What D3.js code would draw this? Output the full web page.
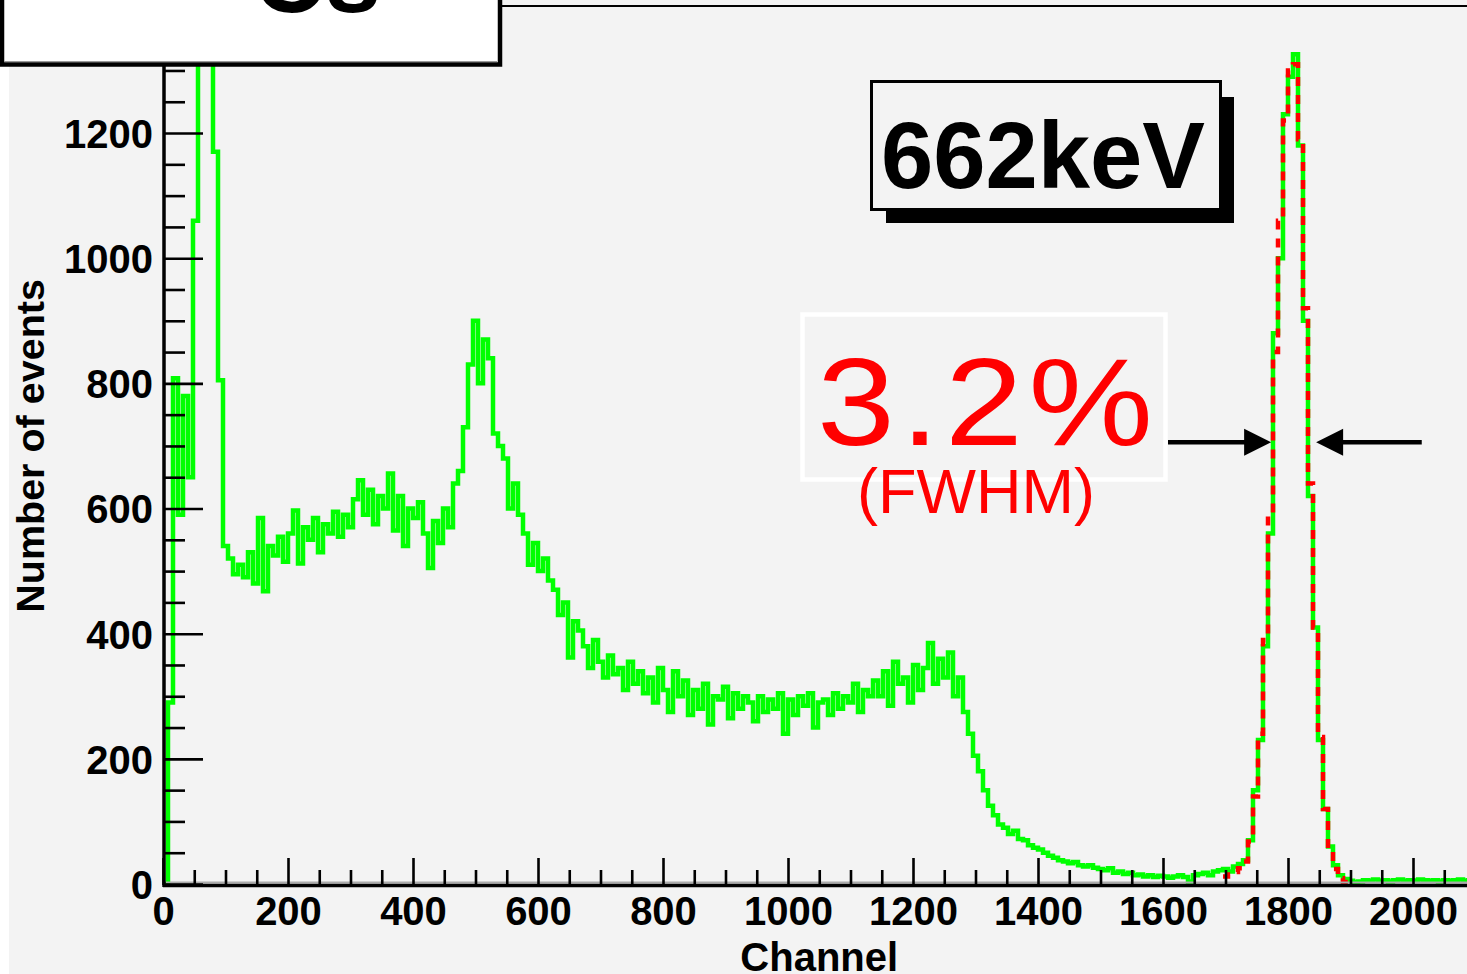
<!DOCTYPE html>
<html><head><meta charset="utf-8">
<script src="https://cdn.jsdelivr.net/npm/d3@7"></script>
<style>
html,body{margin:0;padding:0;background:#ffffff;}
svg{display:block;}
</style>
</head><body>
<svg id="chart" width="1467" height="974"></svg>
<script>
// ---------------- data ----------------
const binWidth = 8; // channels per bin
// spectrum counts, bin i covers channels [8i, 8i+8)
const counts = [
  0, 290, 808, 590, 780, 650, 1060, 2500, 3500, 3000,
  1170, 805, 540, 520, 495, 510, 490, 530, 480, 585,
  468, 540, 525, 555, 515, 560, 597, 512, 570, 550,
  585, 530, 575, 560, 595, 555, 590, 570, 615, 645,
  590, 630, 575, 620, 600, 656, 565, 620, 540, 600,
  585, 610, 560, 505, 580, 545, 600, 570, 640, 660,
  730, 830, 900, 800, 870, 840, 720, 700, 680, 600,
  640, 590, 560, 510, 545, 500, 520, 485, 470, 430,
  450, 362, 420, 405, 380, 345, 390, 355, 330, 365,
  335, 345, 310, 355, 320, 340, 305, 330, 290, 345,
  310, 275, 340, 300, 325, 270, 310, 280, 320, 255,
  300, 295, 315, 265, 305, 280, 300, 290, 260, 300,
  275, 295, 280, 305, 240, 295, 270, 300, 285, 305,
  250, 290, 295, 270, 305, 280, 300, 290, 320, 275,
  310, 300, 325, 300, 340, 285, 355, 320, 330, 290,
  350, 310, 345, 385, 320, 360, 330, 370, 300, 330,
  275, 240, 205, 180, 150, 125, 110, 95, 90, 80,
  85, 72, 70, 62, 58, 55, 50, 45, 42, 38,
  36, 33, 35, 30, 28, 30, 26, 24, 22, 25,
  18, 20, 16, 18, 14, 15, 12, 14, 11, 13,
  12, 10, 12, 14, 11, 4, 14, 16, 18, 14,
  20, 22, 24, 20, 28, 32, 38, 70, 150, 230,
  380, 560, 880, 1000, 1230, 1290, 1326, 1180, 900, 620,
  410, 230, 120, 60, 30, 14, 8, 5, 3, 4,
  6, 5, 7, 5, 6, 4, 6, 7, 5, 6,
  5, 7, 6, 5, 6, 4, 6, 5, 6, 7,
  5, 6, 5
];
// gaussian fit drawn over the photopeak (same binning), first bin index:
const fitStartBin = 212;
const fitCounts = [
  12, 15, 19, 25, 36, 68, 140, 240, 390, 590,
  850, 1060, 1220, 1300, 1310, 1190, 920, 640, 410, 235,
  120, 56, 24, 9, 3, 1
];
const xMajorTicks = [0, 200, 400, 600, 800, 1000, 1200, 1400, 1600, 1800, 2000];
const yMajorTicks = [0, 200, 400, 600, 800, 1000, 1200];
const xDomain = [0, 2100];
const yDomain = [0, 1400];
const xTitle = "Channel";
const yTitle = "Number of events";
const titleText = "Cs";
const energyLabel = "662keV";
const resolutionLabel = "3.2%";
const fwhmLabel = "(FWHM)";
// FWHM arrows (data units): y level, left/right tips and tails
const arrowLevel = 706;
const arrowLeft = {from: 1608, to: 1773};
const arrowRight = {from: 2014, to: 1845};

// ---------------- layout ----------------
const svg = d3.select("#chart");
const W = 1467, H = 974;
const x0 = 163, xPerCh = 0.625;
const yBase = 884, yPerCount = 0.6258;
const x = d3.scaleLinear().domain(xDomain).range([x0, x0 + (xDomain[1]-xDomain[0]) * xPerCh]);
const y = d3.scaleLinear().domain(yDomain).range([yBase, yBase - (yDomain[1]-yDomain[0]) * yPerCount]);
const frameTop = 6;
const font = "'Liberation Sans', Arial, Helvetica, sans-serif";

// background
svg.append("rect").attr("x", 0).attr("y", 0).attr("width", W).attr("height", H).attr("fill", "#ffffff");
svg.append("rect").attr("x", 9).attr("y", 0).attr("width", W - 9).attr("height", H).attr("fill", "#f3f3f3");

// clip for plot area
svg.append("defs").append("clipPath").attr("id", "plotClip")
  .append("rect").attr("x", x0 + 1).attr("y", frameTop).attr("width", W).attr("height", yBase - frameTop + 1);

// histogram step line
function stepPoints(vals, start) {
  const pts = vals.map((v, i) => [(start + i) * binWidth, v]);
  pts.push([(start + vals.length) * binWidth, vals[vals.length - 1]]);
  return pts;
}
const line = d3.line().x(d => x(d[0])).y(d => y(d[1])).curve(d3.curveStepAfter);
const plot = svg.append("g").attr("clip-path", "url(#plotClip)");
plot.append("path").datum(stepPoints(counts, 0))
  .attr("d", line).attr("fill", "none").attr("stroke", "#00ff00")
  .attr("stroke-width", 4.5).attr("stroke-linejoin", "miter");
plot.append("path").datum(stepPoints(fitCounts, fitStartBin))
  .attr("d", line).attr("fill", "none").attr("stroke", "#ff0000")
  .attr("stroke-width", 4.5).attr("stroke-dasharray", "9,9");

// frame lines
svg.append("line").attr("x1", x0).attr("x2", W).attr("y1", frameTop).attr("y2", frameTop)
  .attr("stroke", "#000").attr("stroke-width", 2);
svg.append("line").attr("x1", x0 + 3).attr("x2", W).attr("y1", yBase - 1.5).attr("y2", yBase - 1.5)
  .attr("stroke", "#aaaaaa").attr("stroke-width", 2);

// x axis
const xMinor = d3.range(0, 2101, 50).filter(v => v % 200 !== 0);
const gx = svg.append("g").attr("transform", `translate(0,${yBase + 1})`);
gx.call(d3.axisBottom(x).tickValues(xMinor).tickSize(-15).tickFormat(""));
gx.call(g => g.select(".domain").remove());
const gx2 = svg.append("g").attr("transform", `translate(0,${yBase + 1})`);
gx2.call(d3.axisBottom(x).tickValues(xMajorTicks).tickSize(-27).tickPadding(12).tickFormat(d3.format("d")));
gx2.select(".domain").remove();
svg.selectAll("g.tick line").attr("stroke", "#000").attr("stroke-width", 2.6);
gx2.selectAll("text").attr("font-family", font).attr("font-weight", "bold")
  .attr("font-size", 40).attr("fill", "#000");
svg.append("line").attr("x1", x0).attr("x2", W).attr("y1", yBase + 1.5).attr("y2", yBase + 1.5)
  .attr("stroke", "#000").attr("stroke-width", 3.5);

// y axis
const yMinor = d3.range(0, 1401, 50).filter(v => v % 200 !== 0);
const gy = svg.append("g").attr("transform", `translate(${x0 + 1},0)`);
gy.call(d3.axisLeft(y).tickValues(yMinor).tickSize(-21).tickFormat(""));
gy.select(".domain").remove();
const gy2 = svg.append("g").attr("transform", `translate(${x0 + 1},0)`);
gy2.call(d3.axisLeft(y).tickValues(yMajorTicks).tickSize(-39).tickPadding(11).tickFormat(d3.format("d")));
gy2.select(".domain").remove();
svg.selectAll("g.tick line").attr("stroke", "#000").attr("stroke-width", 2.6);
gy2.selectAll("text").attr("font-family", font).attr("font-weight", "bold")
  .attr("font-size", 40).attr("fill", "#000").attr("dy", "0.36em");
svg.append("line").attr("x1", x0 + 1).attr("x2", x0 + 1).attr("y1", frameTop).attr("y2", yBase + 3)
  .attr("stroke", "#000").attr("stroke-width", 3.5);

// axis titles
svg.append("text").attr("x", (x(xDomain[0]) + x(xDomain[1])) / 2).attr("y", 971)
  .attr("text-anchor", "middle").attr("font-family", font).attr("font-weight", "bold")
  .attr("font-size", 40).attr("fill", "#000").text(xTitle);
svg.append("text").attr("transform", `translate(44,${(y(yDomain[0]) + y(yDomain[1])) / 2}) rotate(-90)`)
  .attr("text-anchor", "middle").attr("font-family", font).attr("font-weight", "bold")
  .attr("font-size", 39.5).attr("fill", "#000").text(yTitle);

// 662keV box with shadow
svg.append("rect").attr("x", 886).attr("y", 97).attr("width", 348).attr("height", 126).attr("fill", "#000");
svg.append("rect").attr("x", 871.5).attr("y", 81.5).attr("width", 349).attr("height", 128)
  .attr("fill", "#f3f3f3").attr("stroke", "#000").attr("stroke-width", 3);
svg.append("text").attr("x", 1043).attr("y", 188).attr("text-anchor", "middle")
  .attr("font-family", font).attr("font-weight", "bold").attr("font-size", 94).attr("fill", "#000")
  .text(energyLabel);

// 3.2% box
svg.append("rect").attr("x", 802.5).attr("y", 314.5).attr("width", 363).attr("height", 165)
  .attr("fill", "none").attr("stroke", "#ffffff").attr("stroke-width", 4.5);
svg.append("text").attr("transform", "translate(817,445) scale(1.12,1)")
  .attr("font-family", font).attr("font-size", 125).attr("letter-spacing", 5)
  .attr("fill", "#ff0000").text(resolutionLabel);
svg.append("text").attr("x", 976).attr("y", 513).attr("text-anchor", "middle")
  .attr("font-family", font).attr("font-size", 63).attr("fill", "#ff0000").text(fwhmLabel);

// FWHM arrows
function arrow(fromCh, toCh) {
  const ya = y(arrowLevel);
  const xt = x(toCh), xf = x(fromCh);
  const dir = Math.sign(xt - xf);
  const headLen = 27, headHalf = 13.5;
  svg.append("line").attr("x1", xf).attr("x2", xt - dir * (headLen - 2)).attr("y1", ya).attr("y2", ya)
    .attr("stroke", "#000").attr("stroke-width", 4.5);
  svg.append("path").attr("d", `M${xt},${ya} L${xt - dir * headLen},${ya - headHalf} L${xt - dir * headLen},${ya + headHalf} Z`)
    .attr("fill", "#000");
}
arrow(arrowLeft.from, arrowLeft.to);
arrow(arrowRight.from, arrowRight.to);

// top-left title box (mostly cropped)
svg.append("rect").attr("x", 2).attr("y", -10).attr("width", 498).attr("height", 74.5)
  .attr("fill", "#ffffff").attr("stroke", "#000").attr("stroke-width", 4.5);
svg.append("line").attr("x1", 4).attr("x2", 497).attr("y1", 61.5).attr("y2", 61.5)
  .attr("stroke", "#999").attr("stroke-width", 1);
svg.append("text").attr("x", 253).attr("y", 12).attr("font-family", font).attr("font-weight", "bold")
  .attr("font-size", 100).attr("fill", "#000").text(titleText);
</script>
</body></html>
